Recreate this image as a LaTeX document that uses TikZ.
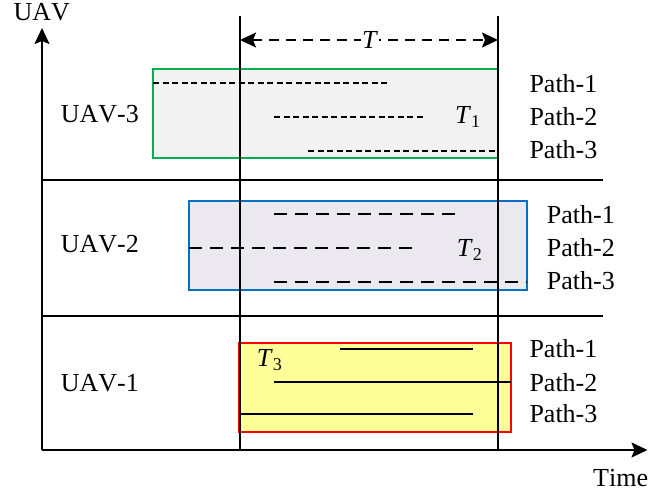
\documentclass[tikz,border=0pt]{standalone}
\usepackage{fontspec}
\setmainfont{Liberation Serif}[Kerning=Off]
\usetikzlibrary{arrows.meta}
\newcommand\Tsub[1]{\textit{T}\raisebox{-4pt}{\fontsize{18}{18}\selectfont #1}}
\definecolor{boxgreen}{HTML}{00B050}
\definecolor{boxblue}{HTML}{0070C0}
\definecolor{boxred}{HTML}{FF0000}
\definecolor{fillgray}{HTML}{F2F2F2}
\definecolor{filllav}{HTML}{EBE8F0}
\definecolor{fillyel}{HTML}{FFFF99}
\tikzset{
  lbl/.style={anchor=base west, inner sep=0pt, font=\fontsize{26}{30}\selectfont},
  axis/.style={line width=2pt, -{Stealth[length=16pt,width=15pt,inset=3pt]}},
  grid/.style={line width=2pt},
  slot/.style={line width=2pt},
  dshort/.style={line width=2pt, dash pattern=on 6pt off 3.5pt},
  dlong/.style={line width=2pt, dash pattern=on 13pt off 8pt},
  path/.style={line width=2pt},
}
\begin{document}
\begin{tikzpicture}[x=1pt,y=-1pt]
\useasboundingbox (0,0) rectangle (648,497);
% boxes
\draw[slot, draw=boxgreen, fill=fillgray] (153,69) rectangle (498,158);
\draw[slot, draw=boxblue, fill=filllav] (189,201) rectangle (527,290);
\draw[slot, draw=boxred, fill=fillyel] (239,343) rectangle (511,432);
% coordinates
\coordinate (o) at (42,450);
\coordinate (ytip) at (42,28);
\coordinate (xtip) at (647.5,450);
\coordinate (v1t) at (240,16);
\coordinate (v1b) at (240,450);
\coordinate (v2t) at (498,16);
\coordinate (v2b) at (498,450);
\coordinate (s1l) at (42,180);
\coordinate (s1r) at (603,180);
\coordinate (s2l) at (42,316);
\coordinate (s2r) at (603,316);
\coordinate (ta) at (240,40);
\coordinate (tb) at (498,40);
% grid and axes
\draw[grid] (v1t) -- (v1b);
\draw[grid] (v2t) -- (v2b);
\draw[grid] (s1l) -- (s1r);
\draw[grid] (s2l) -- (s2r);
\draw[axis] (o) -- (ytip);
\draw[axis] (o) -- (xtip);
\draw[line width=2pt, dash pattern=on 10pt off 7pt, {Stealth[length=16pt,width=15pt,inset=3pt]}-{Stealth[length=16pt,width=15pt,inset=3pt]}] (ta) -- (tb);
\node[anchor=base, inner sep=1pt, fill=white, font=\fontsize{26}{30}\selectfont] (T) at (370,48.3) {\textit{T}};
% UAV-3 paths
\draw[dshort] (153,83) -- (388,83);
\draw[dshort] (274,117) -- (426,117);
\draw[dshort] (308,151) -- (498,151);
% UAV-2 paths
\draw[dlong] (274,214) -- (457,214);
\draw[dlong] (189,248) -- (419,248);
\draw[dlong] (274,282) -- (527,282);
% UAV-1 paths
\draw[path] (340,349) -- (473,349);
\draw[path] (274,382) -- (511,382);
\draw[path] (240,414) -- (473,414);
% labels
\node[lbl] (uav) at (13.3,20.7) {UAV};
\node[lbl] (time) at (593,486.7) {Time};
\node[lbl] (u3) at (60.7,122.3) {UAV-3};
\node[lbl] (u2) at (60.7,253) {UAV-2};
\node[lbl] (u1) at (60.7,391) {UAV-1};
\node[lbl] (t1) at (455,123.3) {\Tsub{1}};
\node[lbl] (t2) at (456.7,256.7) {\Tsub{2}};
\node[lbl] (t3) at (256.7,366) {\Tsub{3}};
\node[lbl] (p31) at (529.3,92.3) {Path-1};
\node[lbl] (p32) at (529.3,125.5) {Path-2};
\node[lbl] (p33) at (529.3,158.7) {Path-3};
\node[lbl] (p21) at (546.7,223.3) {Path-1};
\node[lbl] (p22) at (546.7,256.7) {Path-2};
\node[lbl] (p23) at (546.7,289.3) {Path-3};
\node[lbl] (p11) at (529.3,357.7) {Path-1};
\node[lbl] (p12) at (529.3,391) {Path-2};
\node[lbl] (p13) at (529.3,422.7) {Path-3};
\end{tikzpicture}
\end{document}
